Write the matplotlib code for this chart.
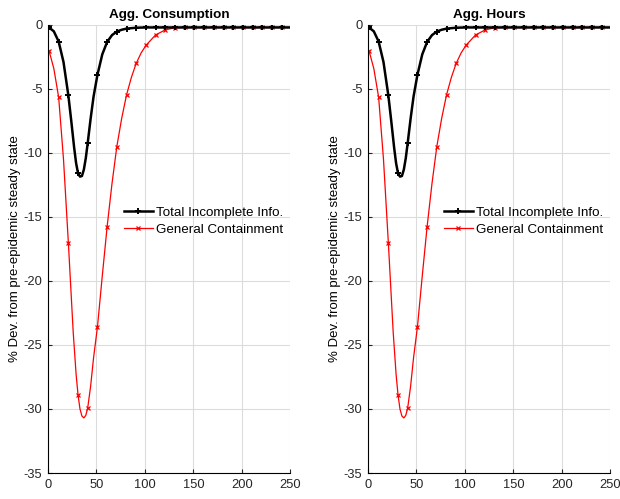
import matplotlib.pyplot as plt

plt.rcParams['font.family'] = ['Liberation Sans', 'DejaVu Sans']
plt.rcParams['axes.unicode_minus'] = False

weeks_tii = [1, 6, 11, 16, 21, 24, 27, 29, 31, 33, 35, 37, 39, 41, 44, 47, 51, 56, 61, 66, 71, 76, 81,
             91, 101, 111, 121, 131, 141, 151, 161, 171, 181, 191, 201, 211, 221, 231, 241, 250]
tii = [-0.2, -0.5, -1.3, -2.9, -5.5, -7.5, -9.6, -10.8, -11.6, -11.85, -11.8, -11.3, -10.4, -9.2, -7.3,
       -5.6, -3.9, -2.3, -1.33, -0.8, -0.52, -0.38, -0.29, -0.22, -0.2, -0.2, -0.2, -0.2, -0.2, -0.2,
       -0.2, -0.2, -0.2, -0.2, -0.2, -0.2, -0.2, -0.2, -0.2, -0.2]

weeks_gc = [1, 6, 11, 16, 21, 26, 29, 31, 33, 35, 37, 39, 41, 44, 47, 51, 56, 61, 66, 71, 76, 81, 86,
            91, 96, 101, 111, 121, 131, 141, 151, 161, 171, 181, 191, 201, 211, 221, 231, 241, 250]
gc = [-2.0, -3.4, -5.65, -10.5, -17.0, -24.0, -27.3, -28.9, -30.0, -30.55, -30.7, -30.5, -29.9, -28.2,
      -26.0, -23.6, -19.6, -15.75, -12.4, -9.5, -7.3, -5.47, -4.1, -3.0, -2.2, -1.6, -0.78, -0.39, -0.22,
      -0.2, -0.2, -0.2, -0.2, -0.2, -0.2, -0.2, -0.2, -0.2, -0.2, -0.2, -0.2]

panels = ["Agg. Consumption", "Agg. Hours"]
labels = ["Total Incomplete Info.", "General Containment"]
xticks = [0, 50, 100, 150, 200, 250]
yticks = [0, -5, -10, -15, -20, -25, -30, -35]

fig = plt.figure(figsize=(6.2, 4.99), dpi=100)
lefts = [0.0774, 0.5935]

for left, title in zip(lefts, panels):
    ax = fig.add_axes([left, 0.0521, 0.391, 0.898])
    mk1 = [i for i, w in enumerate(weeks_tii) if w % 10 == 1]
    mk2 = [i for i, w in enumerate(weeks_gc) if w % 10 == 1]
    ax.plot(weeks_tii, tii, color="black", lw=1.8, marker="+", markersize=5, mew=1.4,
            markevery=mk1, label=labels[0], zorder=3)
    ax.plot(weeks_gc, gc, color="red", lw=0.9, marker="x", markersize=3.5, mew=0.9,
            markevery=mk2, label=labels[1], zorder=2)
    ax.set_xlim(0, 250)
    ax.set_ylim(-35, 0)
    ax.set_xticks(xticks)
    ax.set_yticks(yticks)
    ax.grid(True, color="#dcdcdc", lw=0.8)
    ax.set_axisbelow(True)
    ax.spines["top"].set_visible(False)
    ax.spines["right"].set_visible(False)
    ax.tick_params(direction="in", length=3, labelsize=9.3, colors="#262626")
    ax.tick_params(axis="x", pad=4)
    ax.tick_params(axis="y", pad=4)
    ax.set_title(title, fontsize=9.7, fontweight="bold", pad=5)
    ax.set_ylabel("% Dev. from pre-epidemic steady state", fontsize=9.5, labelpad=2)
    ax.legend(loc="upper left", bbox_to_anchor=(0.285, 0.609), frameon=False, fontsize=9.6,
              handlelength=2.2, handletextpad=0.2, labelspacing=0.35, borderpad=0)

fig.savefig("out.png", dpi=100)
